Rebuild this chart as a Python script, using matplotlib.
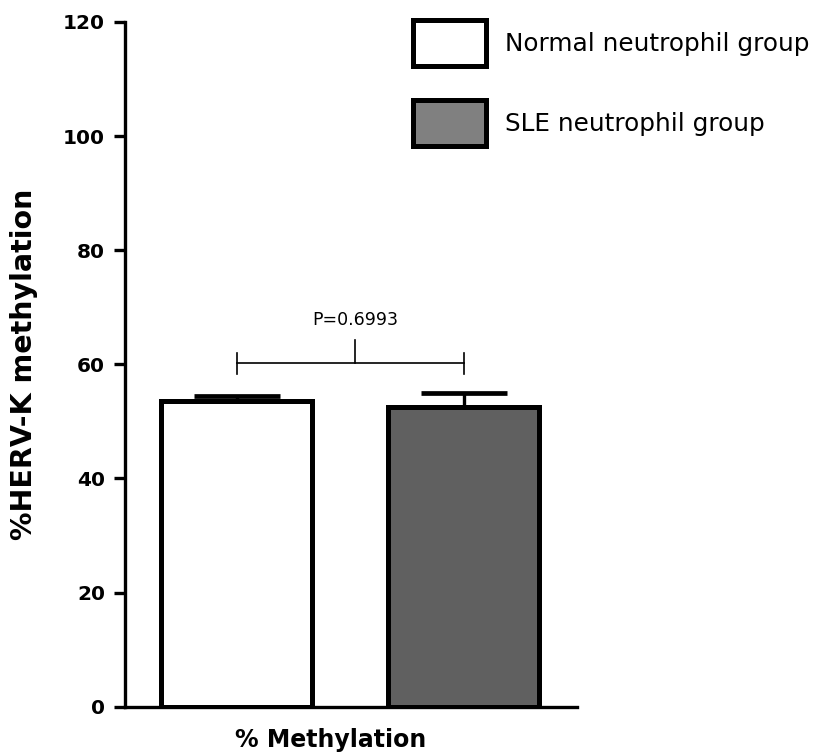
import matplotlib
matplotlib.use('Agg')
import matplotlib.pyplot as plt
from matplotlib.patches import Rectangle

# data
groups = ['Normal neutrophil group', 'SLE neutrophil group']
means = [53.5, 52.6]
sems = [1.0, 2.4]
colors = ['white', '#606060']
legend_colors = ['white', '#808080']
p_text = 'P=0.6993'
yticks = [0, 20, 40, 60, 80, 100, 120]

plt.rcParams['font.family'] = 'DejaVu Sans'

W, H = 814, 756
fig = plt.figure(figsize=(W / 100, H / 100), dpi=100)
ax = fig.add_axes([0.1536, 0.0652, 0.555, 0.9057])

xpos = [0, 1]
ax.bar(xpos, means, width=0.665, color=colors, edgecolor='black', linewidth=3.6, zorder=2)
for x, m, s in zip(xpos, means, sems):
    ax.errorbar(x, m, yerr=[[0], [s]], fmt='none', ecolor='black',
                elinewidth=2.4, capsize=31, capthick=3.4, zorder=1)

# significance bracket
ax.plot([0, 1], [60.2, 60.2], color='black', lw=1.2)
ax.plot([0, 0], [58.3, 62.0], color='black', lw=1.2)
ax.plot([1, 1], [58.3, 62.0], color='black', lw=1.2)
ax.plot([0.52, 0.52], [60.2, 64.2], color='black', lw=1.2)
ax.text(0.52, 67.7, p_text, ha='center', va='center', fontsize=12.5)

ax.set_xlim(-0.492, 1.497)
ax.set_ylim(0, 120)
ax.set_yticks(yticks)
ax.set_xticks([])
for s in ['top', 'right']:
    ax.spines[s].set_visible(False)
for s in ['left', 'bottom']:
    ax.spines[s].set_linewidth(2.4)
ax.tick_params(axis='y', length=8, width=2.4, pad=6.5, labelsize=14.5)
for lbl in ax.get_yticklabels():
    lbl.set_fontweight('bold')

ax.set_ylabel('%HERV-K methylation', fontsize=20.5, fontweight='bold')
ax.yaxis.set_label_coords(-0.193, 0.5)
fig.text(330.5 / W, 1 - 740 / H, '% Methylation', ha='center', va='center',
         fontsize=17, fontweight='bold')

# legend drawn by hand: box outer edges in pixels
box_tops = [17, 97]
for top, c, name in zip(box_tops, legend_colors, groups):
    lw_px = 5
    x0 = (410 + lw_px / 2) / W
    y0 = 1 - (top + 51 - lw_px / 2) / H
    fig.patches.append(Rectangle((x0, y0), (78 - lw_px) / W, (51 - lw_px) / H,
                                 transform=fig.transFigure, facecolor=c,
                                 edgecolor='black', linewidth=3.6))
    fig.text(505 / W, 1 - (top + 27) / H, name, ha='left', va='center', fontsize=17.8)

fig.savefig('out.png', dpi=100)
